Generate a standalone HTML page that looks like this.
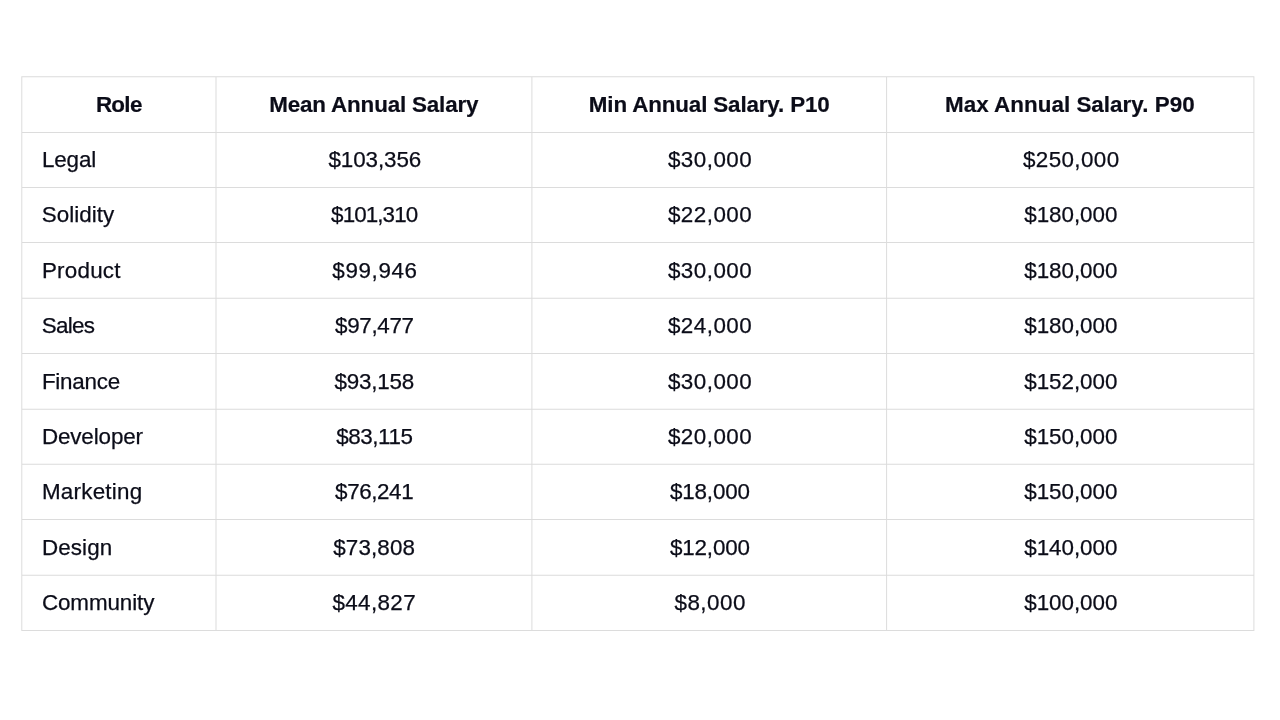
<!DOCTYPE html>
<html><head><meta charset="utf-8"><title>Salary table</title><style>
html,body{margin:0;padding:0;background:#fff;width:1280px;height:720px;overflow:hidden;}
#w{position:absolute;left:0;top:0;width:1280px;height:720px;will-change:transform;}
body{position:relative;font-family:"Liberation Sans",Arial,sans-serif;color:#0b0c18;}
.h{position:absolute;height:1px;background:#e2e2e2;}
.v{position:absolute;width:1px;background:#e2e2e2;}
.c{position:absolute;white-space:nowrap;font-size:22.4px;line-height:22.4px;-webkit-text-stroke:0.25px #0b0c18;}
.b{font-weight:bold;font-size:22.4px;line-height:22.4px;-webkit-text-stroke:0.2px #0b0c18;}
</style></head><body><div id="w">

<svg width="1280" height="720" viewBox="0 0 1280 720" style="position:absolute;left:0;top:0"><path fill="#dcdcdc" d="M21.30 76.30h1.0V631.05h-1.0ZM215.50 76.30h1.0V631.05h-1.0ZM531.40 76.30h1.0V631.05h-1.0ZM886.10 76.30h1.0V631.05h-1.0ZM1253.40 76.30h1.0V631.05h-1.0ZM21.30 76.30H1254.40v1.0H21.30ZM21.30 131.90H1254.40v1.0H21.30ZM21.30 186.90H1254.40v1.0H21.30ZM21.30 242.07H1254.40v1.0H21.30ZM21.30 297.67H1254.40v1.0H21.30ZM21.30 353.10H1254.40v1.0H21.30ZM21.30 408.80H1254.40v1.0H21.30ZM21.30 463.67H1254.40v1.0H21.30ZM21.30 518.94H1254.40v1.0H21.30ZM21.30 574.80H1254.40v1.0H21.30ZM21.30 630.05H1254.40v1.0H21.30Z"/></svg>
<div class="c b" style="top:93.80px;letter-spacing:-0.690px;left:118.78px;transform:translateX(-50%);">Role</div>
<div class="c b" style="top:93.80px;letter-spacing:-0.160px;left:373.80px;transform:translateX(-50%);">Mean Annual Salary</div>
<div class="c b" style="top:93.80px;letter-spacing:-0.142px;left:709.22px;transform:translateX(-50%);">Min Annual Salary. P10</div>
<div class="c b" style="top:93.80px;letter-spacing:0.033px;left:1069.82px;transform:translateX(-50%);">Max Annual Salary. P90</div>
<div class="c" style="top:149.00px;letter-spacing:-0.122px;left:41.91px;">Legal</div>
<div class="c" style="top:149.00px;letter-spacing:-0.068px;left:374.85px;transform:translateX(-50%);">$103,356</div>
<div class="c" style="top:149.00px;letter-spacing:0.481px;left:710.08px;transform:translateX(-50%);">$30,000</div>
<div class="c" style="top:149.00px;letter-spacing:0.396px;left:1071.22px;transform:translateX(-50%);">$250,000</div>
<div class="c" style="top:204.00px;letter-spacing:0.015px;left:41.86px;">Solidity</div>
<div class="c" style="top:204.00px;letter-spacing:-0.906px;left:374.20px;transform:translateX(-50%);">$101,310</div>
<div class="c" style="top:204.00px;letter-spacing:0.481px;left:710.08px;transform:translateX(-50%);">$22,000</div>
<div class="c" style="top:204.00px;letter-spacing:-0.038px;left:1070.80px;transform:translateX(-50%);">$180,000</div>
<div class="c" style="top:260.00px;letter-spacing:0.233px;left:41.91px;">Product</div>
<div class="c" style="top:260.00px;letter-spacing:0.627px;left:374.97px;transform:translateX(-50%);">$99,946</div>
<div class="c" style="top:260.00px;letter-spacing:0.481px;left:710.08px;transform:translateX(-50%);">$30,000</div>
<div class="c" style="top:260.00px;letter-spacing:-0.038px;left:1070.80px;transform:translateX(-50%);">$180,000</div>
<div class="c" style="top:315.00px;letter-spacing:-0.707px;left:41.86px;">Sales</div>
<div class="c" style="top:315.00px;letter-spacing:-0.331px;left:374.39px;transform:translateX(-50%);">$97,477</div>
<div class="c" style="top:315.00px;letter-spacing:0.481px;left:710.08px;transform:translateX(-50%);">$24,000</div>
<div class="c" style="top:315.00px;letter-spacing:-0.038px;left:1070.80px;transform:translateX(-50%);">$180,000</div>
<div class="c" style="top:371.00px;letter-spacing:-0.232px;left:41.91px;">Finance</div>
<div class="c" style="top:371.00px;letter-spacing:-0.214px;left:374.34px;transform:translateX(-50%);">$93,158</div>
<div class="c" style="top:371.00px;letter-spacing:0.481px;left:710.08px;transform:translateX(-50%);">$30,000</div>
<div class="c" style="top:371.00px;letter-spacing:-0.038px;left:1070.80px;transform:translateX(-50%);">$152,000</div>
<div class="c" style="top:426.00px;letter-spacing:-0.119px;left:41.91px;">Developer</div>
<div class="c" style="top:426.00px;letter-spacing:-0.404px;left:374.37px;transform:translateX(-50%);">$83,115</div>
<div class="c" style="top:426.00px;letter-spacing:0.481px;left:710.08px;transform:translateX(-50%);">$20,000</div>
<div class="c" style="top:426.00px;letter-spacing:-0.038px;left:1070.80px;transform:translateX(-50%);">$150,000</div>
<div class="c" style="top:481.00px;letter-spacing:0.241px;left:41.91px;">Marketing</div>
<div class="c" style="top:481.00px;letter-spacing:-0.408px;left:374.16px;transform:translateX(-50%);">$76,241</div>
<div class="c" style="top:481.00px;letter-spacing:-0.178px;left:709.90px;transform:translateX(-50%);">$18,000</div>
<div class="c" style="top:481.00px;letter-spacing:-0.038px;left:1070.80px;transform:translateX(-50%);">$150,000</div>
<div class="c" style="top:537.00px;letter-spacing:0.113px;left:41.91px;">Design</div>
<div class="c" style="top:537.00px;letter-spacing:0.127px;left:374.16px;transform:translateX(-50%);">$73,808</div>
<div class="c" style="top:537.00px;letter-spacing:-0.178px;left:709.90px;transform:translateX(-50%);">$12,000</div>
<div class="c" style="top:537.00px;letter-spacing:-0.038px;left:1070.80px;transform:translateX(-50%);">$140,000</div>
<div class="c" style="top:592.00px;letter-spacing:-0.087px;left:41.88px;">Community</div>
<div class="c" style="top:592.00px;letter-spacing:0.359px;left:374.22px;transform:translateX(-50%);">$44,827</div>
<div class="c" style="top:592.00px;letter-spacing:0.502px;left:710.19px;transform:translateX(-50%);">$8,000</div>
<div class="c" style="top:592.00px;letter-spacing:-0.038px;left:1070.80px;transform:translateX(-50%);">$100,000</div>
</div></body></html>
